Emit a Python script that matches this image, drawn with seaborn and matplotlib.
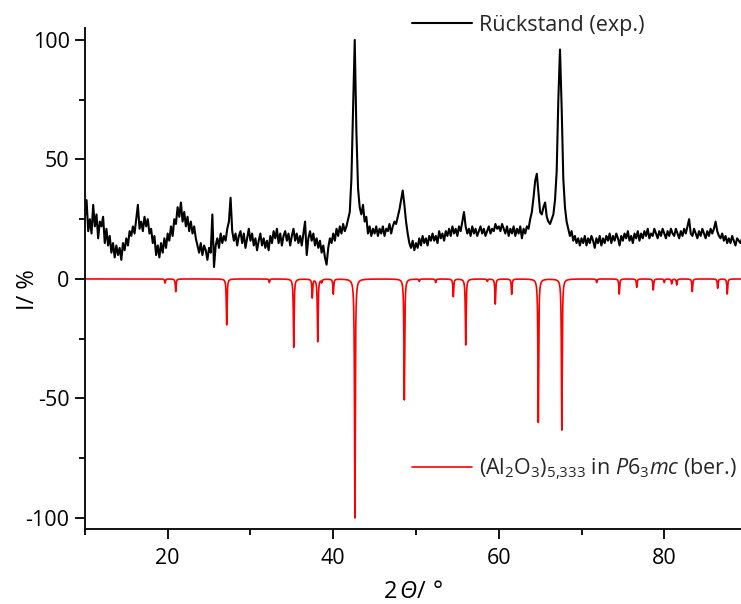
import numpy as np
import pandas as pd
import matplotlib
matplotlib.use("Agg")
import matplotlib.pyplot as plt
import seaborn as sns

# ---------------- data ----------------
# experimental pattern, sampled every 0.2 deg starting at 10.0 deg
exp_start = 10.0
exp_step = 0.2
exp_intensity = [
    26, 33, 20, 25, 19, 31, 22, 27, 17, 24,   # 10-12
    22, 26, 15, 21, 14, 18, 11, 15, 9, 14,    # 12-14
    10, 13, 8, 15, 12, 17, 14, 20, 18, 22,    # 14-16
    19, 25, 31, 21, 24, 20, 26, 22, 25, 19,   # 16-18
    21, 15, 18, 10, 14, 9, 15, 11, 17, 13,    # 18-20
    19, 16, 22, 18, 25, 23, 30, 26, 32, 24,   # 20-22
    28, 22, 26, 20, 24, 19, 22, 17, 14, 11,   # 22-24
    15, 10, 14, 12, 8, 13, 11, 27, 5, 14,     # 24-26
    17, 13, 19, 15, 18, 16, 21, 24, 34, 20,   # 26-28
    16, 19, 14, 18, 20, 15, 19, 13, 17, 21,   # 28-30
    16, 19, 14, 17, 12, 16, 19, 14, 17, 13,   # 30-32
    16, 12, 18, 15, 20, 17, 21, 15, 19, 14,   # 32-34
    18, 20, 16, 19, 14, 18, 21, 16, 19, 15,   # 34-36
    18, 14, 19, 24, 10, 17, 20, 16, 19, 14,   # 36-38
    17, 13, 16, 11, 14, 9, 6, 13, 17, 15,     # 38-40
    19, 16, 21, 18, 22, 19, 23, 20, 22, 25,   # 40-42
    28, 42, 72, 100, 62, 38, 30, 27, 31, 24,  # 42-44
    26, 19, 22, 18, 21, 19, 22, 18, 21, 19,   # 44-46
    22, 18, 21, 20, 23, 19, 22, 24, 23, 26,   # 46-48
    29, 33, 37, 31, 24, 19, 15, 13, 16, 12,   # 48-50
    15, 13, 17, 14, 18, 15, 17, 14, 18, 16,   # 50-52
    19, 16, 18, 15, 20, 17, 19, 16, 20, 18,   # 52-54
    21, 18, 22, 19, 21, 18, 22, 20, 24, 28,   # 54-56
    22, 19, 21, 18, 22, 19, 21, 18, 20, 22,   # 56-58
    19, 21, 18, 20, 22, 19, 21, 20, 23, 21,   # 58-60
    22, 20, 23, 21, 19, 22, 18, 21, 19, 22,   # 60-62
    18, 21, 19, 22, 17, 21, 19, 22, 21, 25,   # 62-64
    28, 34, 41, 44, 36, 28, 27, 30, 32, 26,   # 64-66
    24, 23, 25, 27, 33, 45, 75, 96, 72, 42,   # 66-68
    30, 24, 21, 18, 20, 16, 18, 15, 17, 14,   # 68-70
    17, 15, 18, 14, 17, 15, 18, 16, 13, 17,   # 70-72
    15, 18, 14, 17, 15, 18, 16, 19, 15, 18,   # 72-74
    16, 19, 17, 14, 18, 16, 19, 17, 20, 16,   # 74-76
    18, 15, 19, 17, 20, 16, 19, 17, 20, 18,   # 76-78
    21, 17, 19, 18, 21, 19, 17, 20, 18, 21,   # 78-80
    19, 17, 20, 18, 21, 19, 18, 21, 19, 17,   # 80-82
    20, 18, 21, 19, 22, 25, 19, 18, 21, 19,   # 82-84
    17, 20, 18, 21, 19, 17, 20, 18, 21, 19,   # 84-86
    21, 24, 20, 18, 17, 19, 16, 18, 15, 17,   # 86-88
    15, 18, 16, 14, 17, 16, 15, 17,           # 88-89.4
]

# calculated reflections (2theta in deg, relative intensity in %)
calc_positions = [19.68, 20.97, 27.13, 32.28, 35.23, 37.47, 38.13, 38.61, 40.01,
                  42.62, 48.59, 50.40, 52.38, 54.51, 56.01, 58.62, 59.58, 61.56,
                  64.78, 67.62, 71.83, 74.56, 76.67, 78.67, 80.00, 80.89, 81.50,
                  83.38, 86.45, 87.61]
calc_intensities = [1.7, 5.3, 19.2, 1.5, 28.6, 7.8, 26.2, 1.3, 6.3,
                    100, 50.6, 1.0, 1.5, 7.4, 27.6, 1.0, 10.5, 6.4,
                    60.0, 63.2, 1.5, 6.3, 3.5, 4.6, 1.5, 2.0, 2.5,
                    5.3, 3.9, 6.3]

label_exp = "Rückstand (exp.)"
label_calc = r"(Al$_2$O$_3$)$_{5{,}333}$ in $\mathit{P}$6$_3$$\mathit{mc}$ (ber.)"
x_label = r"$\mathrm{2}\,\mathsf{Θ}\mathrm{/\ °}$"
y_label = "I/ %"
x_major = [20, 40, 60, 80]
x_minor = [10, 30, 50, 70]
y_major = [-100, -50, 0, 50, 100]
y_minor = [-75, -25, 25, 75]

# ---------------- build frames ----------------
exp_x = exp_start + exp_step * np.arange(len(exp_intensity))
df_exp = pd.DataFrame({"x": exp_x, "y": exp_intensity})

# calculated profile: narrow Lorentzian lines around each reflection (drawn negative)
grid = np.union1d(np.linspace(10, 90, 8001), np.array(calc_positions))
gamma = 0.055
prof = np.zeros_like(grid)
for p, h in zip(calc_positions, calc_intensities):
    prof += h / (1 + ((grid - p) / gamma) ** 2)
df_calc = pd.DataFrame({"x": grid, "y": -prof})

# ---------------- style ----------------
sns.set_theme(style="ticks")
plt.rcParams["font.family"] = ["Open Sans", "DejaVu Sans"]
plt.rcParams["mathtext.fontset"] = "custom"
plt.rcParams["mathtext.rm"] = "Open Sans"
plt.rcParams["mathtext.it"] = "Open Sans:italic"
plt.rcParams["mathtext.sf"] = "Open Sans:italic"
plt.rcParams["mathtext.bf"] = "Open Sans:bold"

W, H = 741, 604
fig = plt.figure(figsize=(W / 100, H / 100), dpi=100)
ax = fig.add_axes([84.9 / W, 1 - 528.7 / H, 1 - 84.9 / W, (528.7 - 28) / H])

sns.lineplot(data=df_exp, x="x", y="y", ax=ax, color="black", linewidth=1.5,
             estimator=None, sort=False, label=label_exp, legend=False)
sns.lineplot(data=df_calc, x="x", y="y", ax=ax, color="#ff0000", linewidth=1.2,
             estimator=None, sort=False, label=label_calc, legend=False)

ax.set_xlim(10, 89.27)
ax.set_ylim(-104.5, 105.0)
ax.set_xticks(x_major)
ax.set_xticks(x_minor, minor=True)
ax.set_yticks(y_major)
ax.set_yticks(y_minor, minor=True)
ax.set_yticklabels([str(v) for v in y_major])

for s in ["top", "right"]:
    ax.spines[s].set_visible(False)
for s in ["left", "bottom"]:
    ax.spines[s].set_linewidth(1.4)
    ax.spines[s].set_color("#111111")

ax.tick_params(axis="both", which="major", direction="out", length=7, width=1.4,
               labelsize=15.5, pad=4, color="#111111", labelcolor="black")
ax.tick_params(axis="x", which="major", pad=7)
ax.tick_params(axis="both", which="minor", direction="out", length=4, width=1.4,
               color="#111111")

ax.set_xlabel(x_label, fontsize=17, labelpad=8, color="black")
ax.set_ylabel(y_label, fontsize=17, color="black")
ax.yaxis.set_label_coords((40 - 84.9) / 656.1, (528.7 - 289.5) / 500.7)

lines = ax.get_lines()
leg1 = ax.legend([lines[0]], [label_exp], loc="center left",
                 bbox_to_anchor=(412 / W, 1 - 25 / H), bbox_transform=fig.transFigure,
                 frameon=False, fontsize=15.5, handlelength=2.8, handletextpad=0.33,
                 borderpad=0, borderaxespad=0)
ax.add_artist(leg1)
ax.legend([lines[1]], [label_calc], loc="center left",
          bbox_to_anchor=(412 / W, 1 - 469 / H), bbox_transform=fig.transFigure,
          frameon=False, fontsize=15.5, handlelength=2.8, handletextpad=0.33,
          borderpad=0, borderaxespad=0)

fig.savefig("out.png", dpi=100)
